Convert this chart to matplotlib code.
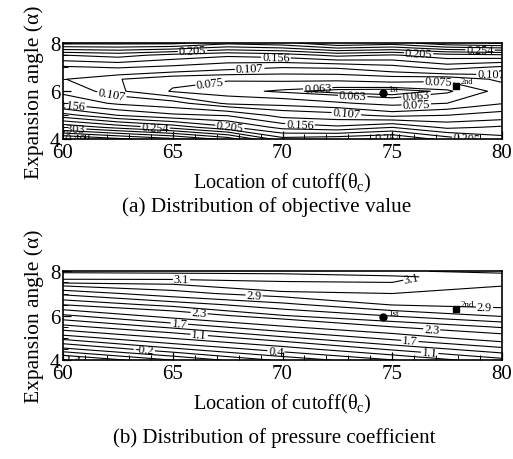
import numpy as np
import matplotlib
matplotlib.use("Agg")
import matplotlib.pyplot as plt
from matplotlib.ticker import MultipleLocator

plt.rcParams['font.family'] = ['Liberation Serif', 'DejaVu Serif']
plt.rcParams['mathtext.fontset'] = 'custom'
plt.rcParams['mathtext.rm'] = 'Liberation Serif'
plt.rcParams['mathtext.it'] = 'Liberation Serif'
plt.rcParams['contour.negative_linestyle'] = 'solid'

# ---------------- data: objective value (a) ----------------
obj_x = [60, 62.5, 65, 67.5, 70, 72.5, 75, 77.5, 80]
obj_y = [4.0, 4.5, 5.0, 5.5, 6.0, 6.5, 7.0, 7.5, 8.0]
obj_values = [
    [0.410, 0.385, 0.360, 0.320, 0.240, 0.249, 0.260, 0.220, 0.190],
    [0.298, 0.270, 0.245, 0.210, 0.172, 0.161, 0.180, 0.150, 0.160],
    [0.215, 0.180, 0.161, 0.154, 0.122, 0.115, 0.100, 0.107, 0.115],
    [0.150, 0.127, 0.115, 0.087, 0.084, 0.077, 0.070, 0.075, 0.090],
    [0.125, 0.094, 0.0735, 0.067, 0.061, 0.056, 0.0545, 0.061, 0.080],
    [0.108, 0.092, 0.079, 0.0765, 0.078, 0.078, 0.0815, 0.0785, 0.095],
    [0.128, 0.134, 0.126, 0.115, 0.108, 0.110, 0.123, 0.143, 0.127],
    [0.180, 0.190, 0.172, 0.161, 0.168, 0.187, 0.178, 0.195, 0.200],
    [0.285, 0.285, 0.285, 0.260, 0.270, 0.300, 0.290, 0.320, 0.330],
]
obj_label_levels = [0.059, 0.063, 0.075, 0.107, 0.156, 0.205, 0.254, 0.303, 0.401]
obj_other_levels = [0.091, 0.1315, 0.1805, 0.2295, 0.2785, 0.3275, 0.352,
                    0.3765, 0.4255]

# ---------------- data: pressure coefficient (b) ----------------
cp_x = [60, 65, 70, 75, 80]
cp_y = [4.0, 4.5, 5.0, 5.5, 6.0, 6.5, 7.0, 7.5, 7.75, 8.0]
cp_values = [
    [-1.50, -0.80, -0.13, 0.38, 1.00],
    [-0.57, 0.04, 0.58, 1.17, 1.62],
    [0.21, 0.78, 1.33, 1.80, 2.20],
    [0.99, 1.48, 1.97, 2.30, 2.47],
    [1.64, 2.14, 2.44, 2.61, 2.77],
    [2.31, 2.51, 2.71, 2.91, 2.95],
    [2.64, 2.85, 2.98, 3.00, 2.98],
    [3.02, 3.03, 3.09, 3.10, 3.01],
    [3.16, 3.16, 3.15, 3.12, 3.04],
    [3.08, 3.07, 3.06, 3.01, 2.98],
]
cp_label_levels = [-1.4, -0.2, 0.4, 1.1, 1.7, 2.3, 2.9, 3.1]
cp_other_levels = [-1.7, -1.1, -0.8, -0.5, 0.1, 0.75, 1.4, 2.0, 2.45, 2.6,
                   2.75, 3.0]

# optimum points
pt_names = ['1st', '2nd']
pt_x = [74.6, 77.9]
pt_y_obj = [5.91, 6.21]
pt_y_cp = [5.95, 6.32]

xticks = [60, 65, 70, 75, 80]
yticks = [4, 6, 8]

fig = plt.figure(figsize=(5.13, 4.60), dpi=100)
ax1 = fig.add_axes([0.1228, 0.695, 0.8558, 0.209])
ax2 = fig.add_axes([0.1228, 0.215, 0.8558, 0.193])


def style(ax):
    ax.set_xlim(60, 80)
    ax.set_ylim(4, 8)
    ax.set_xticks(xticks)
    ax.set_yticks(yticks)
    ax.xaxis.set_minor_locator(MultipleLocator(1))
    ax.yaxis.set_minor_locator(MultipleLocator(0.5))
    ax.tick_params(which='both', direction='in', top=False, right=False)
    ax.tick_params(which='major', length=6, width=0.9, labelsize=15)
    ax.tick_params(axis='x', which='major', pad=3)
    ax.tick_params(axis='y', which='major', pad=2)
    ax.tick_params(which='minor', length=3.5, width=0.7)
    for s in ax.spines.values():
        s.set_linewidth(1.2)
    ax.set_xlabel(r'Location of cutoff($\theta_{\mathrm{c}}$)', fontsize=14.6, labelpad=6)
    ax.set_ylabel('Expansion angle (α)', fontsize=15.5, labelpad=4)


# (a)
X1, Y1 = np.meshgrid(obj_x, obj_y)
Z1 = np.array(obj_values)
ax1.contour(X1, Y1, Z1, levels=obj_other_levels, colors='black', linewidths=0.8)
cs1 = ax1.contour(X1, Y1, Z1, levels=obj_label_levels, colors='black', linewidths=0.8)
pos1 = [(65.9, 7.7), (69.7, 7.4), (68.5, 6.98), (66.7, 6.34), (71.6, 6.21),
        (73.2, 5.85), (76.1, 5.65), (76.1, 5.36), (72.9, 4.98), (70.8, 4.72),
        (67.6, 4.51), (64.2, 4.51), (60.4, 4.51), (60.7, 4.09), (60.4, 5.4),
        (62.2, 5.75), (76.2, 7.62), (79.0, 7.69), (79.5, 6.69), (77.1, 6.41),
        (74.8, 4.04), (78.4, 4.09)]
ax1.clabel(cs1, manual=pos1, inline=True, inline_spacing=1, fontsize=8.8,
           fmt=lambda v: f'{v:.3f}')
ax1.plot(pt_x[0], pt_y_obj[0], 'o', color='black', ms=5)
ax1.plot(pt_x[1], pt_y_obj[1], 's', color='black', ms=4)
ax1.text(pt_x[0] + 0.2, pt_y_obj[0] + 0.12, pt_names[0], fontsize=6)
ax1.text(pt_x[1] + 0.2, pt_y_obj[1] + 0.12, pt_names[1], fontsize=6)
style(ax1)

# (b)
X2, Y2 = np.meshgrid(cp_x, cp_y)
Z2 = np.array(cp_values)
ax2.contour(X2, Y2, Z2, levels=cp_other_levels, colors='black', linewidths=0.8)
cs2 = ax2.contour(X2, Y2, Z2, levels=cp_label_levels, colors='black', linewidths=0.8)
pos2 = [(65.4, 7.66), (75.9, 7.6), (68.7, 6.86), (79.2, 6.23), (66.2, 6.09),
        (76.8, 5.41), (65.3, 5.64), (75.8, 4.82), (66.2, 5.09), (76.7, 4.27),
        (69.7, 4.36), (63.7, 4.41), (60.4, 4.05)]
ax2.clabel(cs2, manual=pos2, inline=True, inline_spacing=1, fontsize=8.8,
           fmt=lambda v: f'{v:.1f}')
ax2.plot(pt_x[0], pt_y_cp[0], 'o', color='black', ms=5)
ax2.plot(pt_x[1], pt_y_cp[1], 's', color='black', ms=4)
ax2.text(pt_x[0] + 0.2, pt_y_cp[0] + 0.1, pt_names[0], fontsize=6.5)
ax2.text(pt_x[1] + 0.2, pt_y_cp[1] + 0.1, pt_names[1], fontsize=6.5)
style(ax2)

fig.text(267 / 513, 1 - 207 / 460, '(a) Distribution of objective value',
         ha='center', va='center', fontsize=15.3)
fig.text(274 / 513, 1 - 438 / 460, '(b) Distribution of pressure coefficient',
         ha='center', va='center', fontsize=15)

fig.savefig('out.png', dpi=100)
